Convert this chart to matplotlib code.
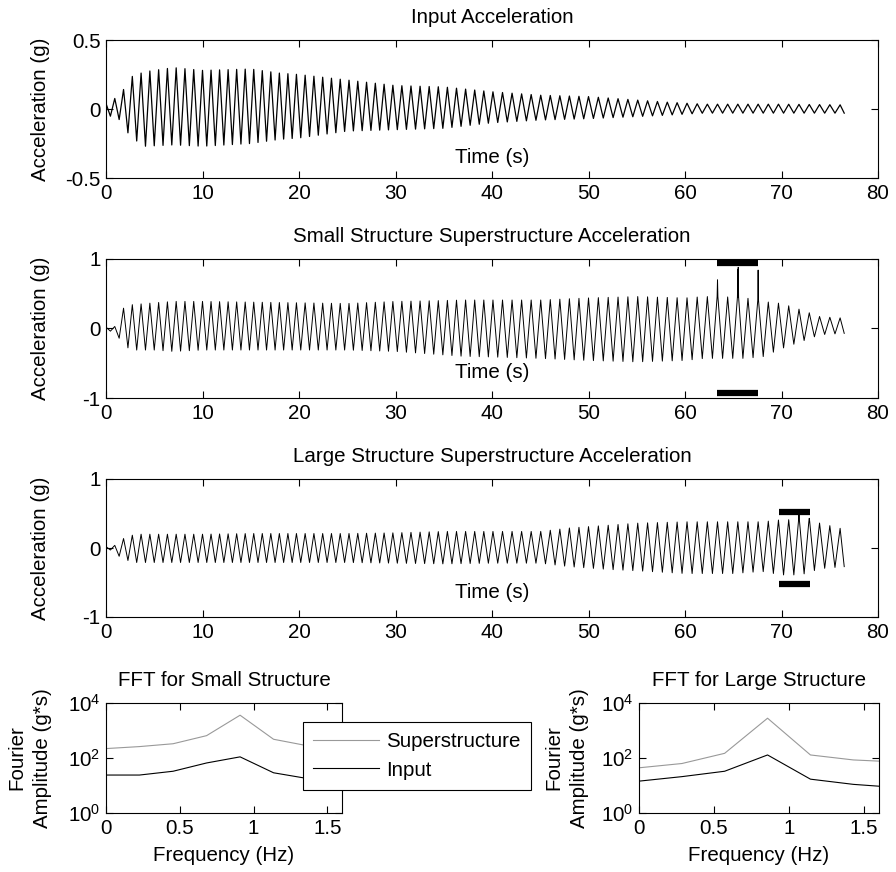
import numpy as np
import matplotlib
matplotlib.use("Agg")
import matplotlib.pyplot as plt

plt.rcParams['font.family'] = ['Liberation Sans', 'DejaVu Sans']
plt.rcParams['font.size'] = 14.8
plt.rcParams['mathtext.fontset'] = 'custom'
plt.rcParams['mathtext.rm'] = 'Liberation Sans'
plt.rcParams['mathtext.it'] = 'Liberation Sans:italic'
plt.rcParams['mathtext.bf'] = 'Liberation Sans:bold'

FS = 14.8

# ---- time histories: envelope (g) ----
# cycles counted per 10 s block (last block 70-76.5 s)
block_edges = [0, 10, 20, 30, 40, 50, 60, 70, 76.5]
block_cycles = [11.0, 11.3, 11.0, 10.6, 10.1, 9.8, 9.5, 6.1]

inp_t = [0, 1.5, 2.5, 4, 7, 10, 15, 18, 20, 25, 30, 35, 40, 45, 50, 55, 58, 62, 70, 76.5]
inp_up = [0.04, 0.10, 0.23, 0.27, 0.30, 0.28, 0.29, 0.26, 0.25, 0.21, 0.17, 0.16,
          0.125, 0.10, 0.09, 0.065, 0.05, 0.035, 0.035, 0.03]
inp_lo = [-0.04, -0.08, -0.20, -0.27, -0.26, -0.27, -0.25, -0.22, -0.21, -0.16, -0.15,
          -0.14, -0.10, -0.08, -0.07, -0.055, -0.045, -0.03, -0.03, -0.03]

small_t = [0, 1.0, 1.5, 2.5, 5, 7, 10, 20, 25, 30, 34, 37, 40, 45, 50, 55, 60, 62, 66,
           68, 70, 72, 74, 76.5]
small_up = [0.02, 0.03, 0.27, 0.34, 0.37, 0.39, 0.39, 0.37, 0.36, 0.39, 0.40, 0.41, 0.41,
            0.41, 0.44, 0.46, 0.44, 0.46, 0.45, 0.39, 0.36, 0.27, 0.17, 0.15]
small_lo = [-0.02, -0.06, -0.17, -0.31, -0.31, -0.33, -0.31, -0.31, -0.31, -0.33, -0.37,
            -0.40, -0.41, -0.43, -0.46, -0.48, -0.46, -0.43, -0.43, -0.41, -0.29, -0.19,
            -0.09, -0.07]
small_spike_t = [63.8, 65.0, 66.0, 67.3]
small_spike_v = [0.70, 0.85, 0.88, 0.84]
small_bar = [63.3, 67.6, 0.94, -0.935]   # t0, t1, top y, bottom y

large_t = [0, 1.0, 1.5, 3, 10, 15, 25, 30, 35, 40, 45, 48, 52, 55, 60, 65, 68, 70, 72,
           74, 76.5]
large_up = [0.02, 0.04, 0.12, 0.20, 0.20, 0.21, 0.21, 0.22, 0.24, 0.24, 0.24, 0.29, 0.33,
            0.36, 0.38, 0.38, 0.38, 0.41, 0.41, 0.36, 0.27]
large_lo = [-0.02, -0.04, -0.15, -0.21, -0.21, -0.21, -0.21, -0.22, -0.23, -0.22, -0.22,
            -0.27, -0.31, -0.33, -0.37, -0.37, -0.34, -0.39, -0.39, -0.30, -0.27]
large_spike_t = [71.55, 72.8]
large_spike_v = [0.50, 0.43]
large_bar = [69.7, 73.0, 0.52, -0.52]

# ---- FFT amplitudes (g*s) ----
fft_small_f = [0, 0.227, 0.455, 0.682, 0.909, 1.136, 1.364, 1.591]
fft_small_super = [220, 260, 330, 650, 3600, 480, 280, 200]
fft_small_input = [24, 24, 33, 66, 110, 29, 18, 14]
fft_large_f = [0, 0.286, 0.571, 0.857, 1.143, 1.429, 1.714]
fft_large_super = [44, 63, 148, 2800, 129, 85, 72]
fft_large_input = [14.4, 21, 33, 129, 17, 11, 8.5]


def extrema(env_t, up, lo, spike_t=(), spike_v=()):
    # alternate peak / trough at each half cycle
    cum = np.concatenate([[0], np.cumsum(block_cycles)])
    halves = np.arange(0, cum[-1] * 2 + 1) / 2.0
    t = np.interp(halves, cum, block_edges)
    v = np.where(np.arange(len(t)) % 2 == 0,
                 np.interp(t, env_t, up), np.interp(t, env_t, lo))
    t, v = list(t), list(v)
    # narrow spikes sitting on top of the nearest peak
    for st, sv in zip(spike_t, spike_v):
        k = min(range(0, len(t), 2), key=lambda i: abs(t[i] - st))
        base = v[k]
        t[k:k + 1] = [t[k] - 0.04, t[k], t[k] + 0.04]
        v[k:k + 1] = [base, sv, base]
    return np.r_[0, t], np.r_[0, v]


def style(ax):
    ax.tick_params(direction='in', top=True, right=True, length=5, pad=4, labelsize=FS)
    for s in ax.spines.values():
        s.set_linewidth(0.8)


fig = plt.figure(figsize=(8.96, 8.72), dpi=100)
W, H = 896, 872


def add_ax(l, t, r, b):
    return fig.add_axes([l / W, 1 - b / H, (r - l) / W, (b - t) / H])


panels = [
    (40, 178, 'Input Acceleration', inp_t, inp_up, inp_lo, (), (), None, 0.5, -0.355, 0.9),
    (259, 398, 'Small Structure Superstructure Acceleration', small_t, small_up, small_lo,
     small_spike_t, small_spike_v, small_bar, 1, -0.64, 0.7),
    (479, 617, 'Large Structure Superstructure Acceleration', large_t, large_up, large_lo,
     large_spike_t, large_spike_v, large_bar, 1, -0.64, 0.7),
]

for top, bot, title, et, eu, el, spt, spv, bar, lim, ty, lw in panels:
    ax = add_ax(106, top, 878, bot)
    t, v = extrema(et, eu, el, spt, spv)
    ax.plot(t, v, color='black', lw=lw)
    if bar is not None:
        ax.hlines([bar[2], bar[3]], bar[0], bar[1], colors='black', lw=4.5)
    ax.set_xlim(0, 80)
    ax.set_ylim(-lim, lim)
    ax.set_xticks(range(0, 81, 10))
    ax.set_yticks([-lim, 0, lim])
    ax.set_yticklabels(['-0.5', '0', '0.5'] if lim == 0.5 else ['-1', '0', '1'])
    ax.set_title(title, fontsize=FS, pad=12.5)
    ax.set_ylabel('Acceleration (g)')
    ax.yaxis.set_label_coords(-0.072, 0.5)
    ax.text(40, ty, 'Time (s)', ha='center', va='center', fontsize=FS)
    style(ax)

ffts = [
    (106, 342, 'FFT for Small Structure', fft_small_f, fft_small_super, fft_small_input, -0.229),
    (639, 879, 'FFT for Large Structure', fft_large_f, fft_large_super, fft_large_input, -0.208),
]
for l, r, title, f, sup, inp, lx in ffts:
    ax = add_ax(l, 703, r, 813)
    h1, = ax.plot(f, sup, color='#999999', lw=0.8, label='Superstructure')
    h2, = ax.plot(f, inp, color='black', lw=0.8, label='Input')
    ax.set_yscale('log')
    ax.set_ylim(1, 1e4)
    ax.set_xlim(0, 1.6)
    ax.set_yticks([1, 1e2, 1e4])
    ax.yaxis.set_minor_locator(matplotlib.ticker.NullLocator())
    ax.set_xticks([0, 0.5, 1, 1.5])
    ax.set_xticklabels(['0', '0.5', '1', '1.5'])
    ax.set_title(title, fontsize=FS, pad=12.5)
    ax.set_xlabel('Frequency (Hz)', labelpad=6)
    ax.set_ylabel('Fourier\nAmplitude (g*s)', linespacing=1.45)
    ax.yaxis.set_label_coords(lx, 0.5)
    style(ax)

leg = fig.legend([h1, h2], ['Superstructure', 'Input'], loc='upper left',
                 bbox_to_anchor=(303 / W, 1 - 722 / H), fancybox=False, framealpha=1,
                 edgecolor='black', fontsize=FS, handlelength=3.2, borderpad=0.5,
                 labelspacing=0.45, handletextpad=0.35, borderaxespad=0)
leg.get_frame().set_linewidth(0.8)

fig.savefig('out.png', dpi=100)
